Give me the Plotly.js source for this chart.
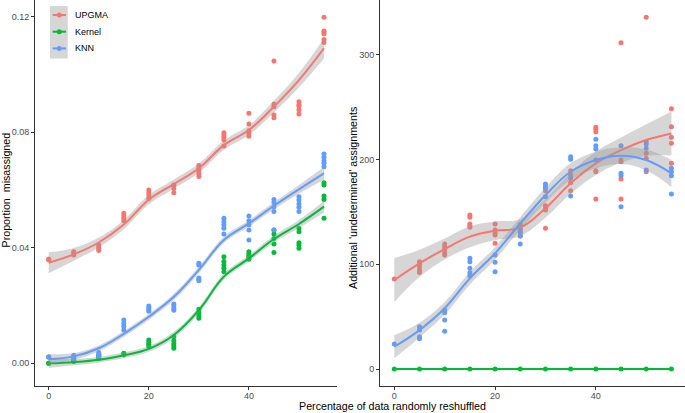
<!DOCTYPE html>
<html>
<head>
<meta charset="utf-8">
<script src="https://cdn.plot.ly/plotly-3.0.1.min.js"></script>
<style>html,body{margin:0;padding:0;background:#fff;}#chart{width:685px;height:413px;}</style>
</head>
<body>
<div id="chart"></div>
<script>
// ---------- data ----------
const xLevels = [0, 5, 10, 15, 20, 25, 30, 35, 40, 45, 50, 55];
const methods = ['UPGMA', 'Kernel', 'KNN'];

// Left panel: proportion misassigned (replicate points per x level)
const propUPGMA = [
  [0.036, 0.036, 0.0358], [0.0386, 0.038, 0.0375], [0.0409, 0.0402, 0.0396, 0.039],
  [0.0519, 0.051, 0.0502, 0.0493], [0.060, 0.059, 0.058, 0.057], [0.0617, 0.0605, 0.059],
  [0.0684, 0.0675, 0.0666, 0.0657, 0.0646], [0.0798, 0.079, 0.0782, 0.0773, 0.0752],
  [0.0865, 0.0828, 0.0805, 0.0796, 0.0786], [0.1046, 0.0897, 0.0888, 0.0859, 0.085],
  [0.0905, 0.0895, 0.089, 0.0877, 0.0863], [0.1197, 0.115, 0.1146, 0.114, 0.112, 0.111]
];
const propKernel = [
  [0, 0], [0.0015, 0.001, 0.0006], [0.0028, 0.0022, 0.0017], [0.0035, 0.003],
  [0.0081, 0.0072, 0.0065, 0.0058], [0.0092, 0.0078, 0.0068, 0.006, 0.0052],
  [0.0187, 0.0175, 0.0165, 0.0156], [0.0369, 0.0352, 0.034, 0.0329, 0.0317],
  [0.0386, 0.0378, 0.0371, 0.0367, 0.036], [0.0461, 0.0447, 0.0432, 0.0413, 0.0383],
  [0.0467, 0.0455, 0.0417, 0.0409, 0.0398], [0.0625, 0.0617, 0.0579, 0.0567, 0.0502]
];
const propKNN = [
  [0.0023, 0.0021], [0.0028, 0.0022, 0.0017], [0.0037, 0.0031, 0.0025],
  [0.015, 0.0138, 0.0127, 0.0115], [0.0198, 0.0192, 0.0186, 0.018], [0.0205, 0.0198, 0.019, 0.0184],
  [0.0346, 0.034, 0.0295, 0.029, 0.0286], [0.0502, 0.049, 0.0479, 0.0467, 0.0447],
  [0.051, 0.0493, 0.0479, 0.0461, 0.0427], [0.0567, 0.0556, 0.0542, 0.0525, 0.0461],
  [0.0576, 0.0565, 0.0551, 0.054, 0.0525], [0.0724, 0.0713, 0.0701, 0.0692, 0.068]
];
// Left panel smooth fits and confidence half-widths
const propFitUPGMA = [0.0348, 0.0377, 0.0418, 0.048, 0.0566, 0.062, 0.0675, 0.0755, 0.0807, 0.0888, 0.098, 0.109];
const propSeUPGMA  = [0.0036, 0.0022, 0.0017, 0.0016, 0.0016, 0.0016, 0.0016, 0.0016, 0.0017, 0.002, 0.0025, 0.0035];
const propFitKernel = [0, 0.0004, 0.0012, 0.0028, 0.0050, 0.0098, 0.0184, 0.03, 0.0363, 0.043, 0.0482, 0.0542];
const propSeKernel  = [0.0016, 0.0011, 0.001, 0.001, 0.001, 0.0011, 0.0011, 0.0011, 0.0011, 0.0012, 0.0014, 0.002];
const propFitKNN = [0.0014, 0.0024, 0.0052, 0.0102, 0.0161, 0.023, 0.0323, 0.0427, 0.0484, 0.0545, 0.0602, 0.0657];
const propSeKNN  = [0.0017, 0.0012, 0.001, 0.001, 0.001, 0.0011, 0.0011, 0.0011, 0.0011, 0.0012, 0.0015, 0.0022];

// Right panel: additional 'undetermined' assignments
const undUPGMA = [
  [86], [102.5, 100.3, 97.7, 94.5, 92.3], [119.4, 116.8, 114.3, 111.1, 108.9],
  [147, 144.9, 138.5, 136.6, 135.3], [138.5, 132.7, 130.2, 128, 120], [138, 134, 130, 127],
  [170.3, 156, 153, 151.8, 134.4], [189.4, 185.3, 178, 170.3],
  [230.8, 228.9, 226.6, 189.4, 188.4, 162.4], [311.6, 199.6, 198, 181.5, 162.4],
  [335.9, 206, 201.2, 188.4], [248.6, 231.4, 221.3, 215.5, 196.4]
];
const undKernel = [[0], [0], [0], [0], [0], [0], [0], [0], [0], [0], [0], [0]];
const undKNN = [
  [23.9], [40.4, 37.2, 30.8, 28.9], [56.3, 53.8, 46.8, 36], [105.7, 102.5, 96.2, 92, 89.1],
  [108.9, 101.9, 93], [132.7, 130.5, 127, 119.4], [176.7, 174.1, 172.6, 164.5],
  [202.8, 200.3, 182.1, 165.2], [219.4, 213.3, 210.1, 199.6], [213.3, 186.9, 184.6, 155],
  [217.1, 214.9, 210.8, 190], [191.7, 188.4, 184.6, 167.1]
];
const undFitUPGMA = [85, 100.9, 114.6, 126.4, 132, 135, 153.5, 177.3, 196.4, 209, 218.7, 225];
const undSeUPGMA  = [21, 13, 10, 10, 9, 8, 9, 10, 11, 12, 15, 21];
const undFitKernel = [0, 0, 0, 0, 0, 0, 0, 0, 0, 0, 0, 0];
const undSeKernel  = [0, 0, 0, 0, 0, 0, 0, 0, 0, 0, 0, 0];
const undFitKNN = [21.3, 37.2, 58, 86.6, 110.5, 139, 166, 188.4, 199.6, 203.7, 199.6, 186.9];
const undSeKNN  = [11, 7, 6, 6, 6, 6, 7, 8, 8, 8, 10, 13];

const yTicksLeft = [0, 0.04, 0.08, 0.12];
const yTickTextLeft = ['0.00', '0.04', '0.08', '0.12'];
const yTicksRight = [0, 100, 200, 300];
const xTicks = [0, 20, 40];

// ---------- styling ----------
const colors = {UPGMA: '#F8766D', Kernel: '#00BA38', KNN: '#619CFF'};
const FONT = 'Liberation Sans, Arial, Helvetica, sans-serif';
const W = 685, H = 413, ML = 35, MR = 0, MT = 0, MB = 27;
const PW = W - ML - MR, PH = H - MT - MB;
const px2x = px => (px - ML) / PW;           // pixel -> paper x
const py2y = py => (PH + MT - py) / PH;      // pixel -> paper y

function flatten(groups) {
  const xs = [], ys = [];
  groups.forEach((g, i) => g.forEach(v => { xs.push(xLevels[i]); ys.push(v); }));
  return {xs, ys};
}

const panels = [
  {xa: 'x', ya: 'y', pts: {UPGMA: propUPGMA, Kernel: propKernel, KNN: propKNN},
   fit: {UPGMA: propFitUPGMA, Kernel: propFitKernel, KNN: propFitKNN},
   se: {UPGMA: propSeUPGMA, Kernel: propSeKernel, KNN: propSeKNN}},
  {xa: 'x2', ya: 'y2', pts: {UPGMA: undUPGMA, Kernel: undKernel, KNN: undKNN},
   fit: {UPGMA: undFitUPGMA, Kernel: undFitKernel, KNN: undFitKNN},
   se: {UPGMA: undSeUPGMA, Kernel: undSeKernel, KNN: undSeKNN}}
];

const traces = [];
panels.forEach(p => {
  methods.forEach(m => {
    const f = flatten(p.pts[m]);
    traces.push({x: f.xs, y: f.ys, xaxis: p.xa, yaxis: p.ya, type: 'scatter', mode: 'markers',
      marker: {color: colors[m], size: 5}, showlegend: false, hoverinfo: 'skip'});
  });
  methods.forEach(m => {
    const lo = p.fit[m].map((v, i) => v - p.se[m][i]);
    const hi = p.fit[m].map((v, i) => v + p.se[m][i]);
    traces.push({x: xLevels, y: lo, xaxis: p.xa, yaxis: p.ya, type: 'scatter', mode: 'lines',
      line: {width: 0, shape: 'spline', smoothing: 1.1}, showlegend: false, hoverinfo: 'skip'});
    traces.push({x: xLevels, y: hi, xaxis: p.xa, yaxis: p.ya, type: 'scatter', mode: 'lines',
      line: {width: 0, shape: 'spline', smoothing: 1.1}, fill: 'tonexty',
      fillcolor: 'rgba(153,153,153,0.4)', showlegend: false, hoverinfo: 'skip'});
    traces.push({x: xLevels, y: p.fit[m], xaxis: p.xa, yaxis: p.ya, type: 'scatter', mode: 'lines',
      line: {color: colors[m], width: 2, shape: 'spline', smoothing: 1.1}, showlegend: false, hoverinfo: 'skip'});
  });
});

const axisCommon = {
  showgrid: false, zeroline: false, showline: true, linecolor: '#333333', linewidth: 1,
  ticks: 'outside', ticklen: 3, tickcolor: '#333333', tickwidth: 1,
  tickfont: {family: FONT, size: 9, color: '#4D4D4D'}, fixedrange: true
};

// ggplot-style legend drawn as layout decorations
const shapes = [
  {type: 'rect', xref: 'paper', yref: 'paper', x0: px2x(50), x1: px2x(67.7), y0: py2y(58.5), y1: py2y(6),
   fillcolor: 'rgba(153,153,153,0.4)', line: {width: 0}, layer: 'above'}
];
const annotations = [
  {text: 'Percentage of data randomly reshuffled', xref: 'paper', yref: 'paper', x: px2x(392), y: py2y(406.3),
   xanchor: 'center', yanchor: 'middle', showarrow: false, borderpad: 0,
   font: {family: FONT, size: 10.7, color: '#000'}},
  {text: 'Proportion  misassigned', xref: 'paper', yref: 'paper', x: px2x(5.5), y: py2y(190), textangle: -90,
   xanchor: 'center', yanchor: 'middle', showarrow: false, font: {family: FONT, size: 10.7, color: '#000'}},
  {text: "Additional 'undetermined' assignments", xref: 'paper', yref: 'paper', x: px2x(352.5), y: py2y(198.5), textangle: -90,
   xanchor: 'center', yanchor: 'middle', showarrow: false, font: {family: FONT, size: 10.7, color: '#000'}}
];
methods.forEach((m, i) => {
  const cy = 15 + i * 16.7;
  shapes.push({type: 'line', xref: 'paper', yref: 'paper', x0: px2x(52.7), x1: px2x(66), y0: py2y(cy), y1: py2y(cy),
    line: {color: colors[m], width: 2}, layer: 'above'});
  shapes.push({type: 'circle', xref: 'paper', yref: 'paper', x0: px2x(59.3 - 2.5), x1: px2x(59.3 + 2.5),
    y0: py2y(cy + 2.5), y1: py2y(cy - 2.5), fillcolor: colors[m], line: {width: 0}, layer: 'above'});
  annotations.push({text: m, xref: 'paper', yref: 'paper', x: px2x(72.7), y: py2y(cy), xanchor: 'left', yanchor: 'middle',
    showarrow: false, font: {family: FONT, size: 9, color: '#000'}});
});

const layout = {
  width: W, height: H,
  margin: {l: ML, r: MR, t: MT, b: MB, pad: 0},
  paper_bgcolor: '#ffffff', plot_bgcolor: '#ffffff',
  font: {family: FONT},
  showlegend: false,
  xaxis: Object.assign({}, axisCommon, {domain: [0, px2x(336.5)], range: [-2.74, 57.5], tickvals: xTicks, anchor: 'y', ticklabelstandoff: -2}),
  yaxis: Object.assign({}, axisCommon, {range: [-0.00785, 0.1257], tickvals: yTicksLeft, ticktext: yTickTextLeft, anchor: 'x'}),
  xaxis2: Object.assign({}, axisCommon, {domain: [px2x(380), 1], range: [-2.84, 57.7], tickvals: xTicks, anchor: 'y2', ticklabelstandoff: -2}),
  yaxis2: Object.assign({}, axisCommon, {range: [-16.2, 352.4], tickvals: yTicksRight, anchor: 'x2'}),
  shapes: shapes,
  annotations: annotations
};

Plotly.newPlot('chart', traces, layout, {displayModeBar: false, staticPlot: true});
</script>
</body>
</html>
